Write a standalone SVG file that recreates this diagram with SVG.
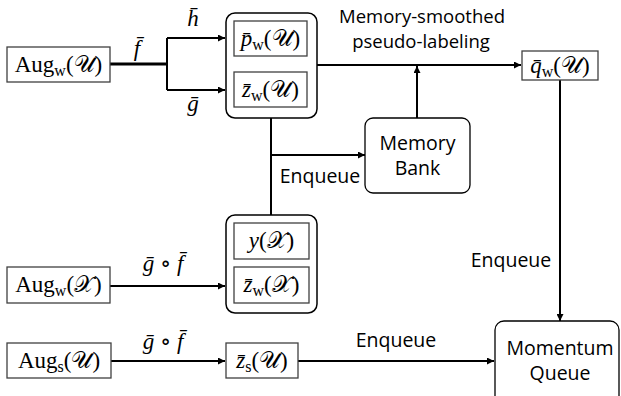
<svg xmlns="http://www.w3.org/2000/svg" width="621" height="396" viewBox="0 0 621 396">
<defs>
<marker id="ah" viewBox="0 0 10 10" refX="10" refY="5" markerWidth="9" markerHeight="7" markerUnits="userSpaceOnUse" orient="auto">
<path d="M0,0 L10,5 L0,10 z" fill="#000"/>
</marker>
<style>
.box{fill:#fff;stroke:#404040;stroke-width:1.3}
.grp{fill:#fff;stroke:#000;stroke-width:1.5}
.rbox{fill:#fff;stroke:#000;stroke-width:1.3}
.m{font-family:"Liberation Serif","DejaVu Serif",serif;font-size:23px;fill:#000;text-anchor:middle}
.i{font-style:italic}
.s{font-size:16px}
.t{font-family:"Open Sans","Liberation Sans",sans-serif;font-size:19.5px;fill:#000;text-anchor:middle}
.h{font-size:18.5px}
.c{fill:none;stroke:#000;stroke-width:2}
</style>
</defs>
<g id="connectors">
<path class="c" d="M110,64 H167" style="stroke-width:3"/>
<path class="c" d="M167,38 V90"/>
<path class="c" d="M167,38 H225" marker-end="url(#ah)"/>
<path class="c" d="M167,90 H225" marker-end="url(#ah)"/>
<path class="c" d="M317,65 H521" marker-end="url(#ah)"/>
<path class="c" d="M417,118 V66" marker-end="url(#ah)"/>
<path class="c" d="M271,118 V215"/>
<path class="c" d="M271,155 H365" marker-end="url(#ah)"/>
<path class="c" d="M560,80 V321" marker-end="url(#ah)"/>
<path class="c" d="M110,286 H225" marker-end="url(#ah)"/>
<path class="c" d="M111,361 H225" marker-end="url(#ah)"/>
<path class="c" d="M298,361 H494" marker-end="url(#ah)"/>
<text class="m i" x="137" y="56">f&#x0304;</text>
<text class="m i" x="193" y="26">h&#x0304;</text>
<text class="m i" x="193" y="111">g&#x0304;</text>
<text class="m" x="163" y="271"><tspan class="i">g&#x0304;</tspan> ∘ <tspan class="i">f&#x0304;</tspan></text>
<text class="m" x="163" y="349"><tspan class="i">g&#x0304;</tspan> ∘ <tspan class="i">f&#x0304;</tspan></text>
<text class="t h" x="422" y="23">Memory-smoothed</text>
<text class="t h" x="421" y="48">pseudo-labeling</text>
<text class="t" x="320" y="183">Enqueue</text>
<text class="t" x="511" y="267">Enqueue</text>
<text class="t" x="396" y="347">Enqueue</text>
</g>
<g id="aug_w_u">
<rect class="box" x="7" y="47" width="103" height="35"/>
<text class="m" x="58.5" y="72">Aug<tspan class="s" dy="4">w</tspan><tspan dy="-4">(𝒰)</tspan></text>
</g>
<g id="group_u">
<rect class="grp" x="226" y="13" width="91" height="105" rx="9"/>
<g id="p_w_u">
<rect class="box" x="234" y="21" width="73" height="35"/>
<text class="m" x="270.5" y="46"><tspan class="i">p&#x0304;</tspan><tspan class="s" dy="4">w</tspan><tspan dy="-4">(𝒰)</tspan></text>
</g>
<g id="z_w_u">
<rect class="box" x="234" y="72" width="73" height="35"/>
<text class="m" x="270.5" y="97"><tspan class="i">z&#x0304;</tspan><tspan class="s" dy="4">w</tspan><tspan dy="-4">(𝒰)</tspan></text>
</g>
</g>
<g id="q_w_u">
<rect class="box" x="522" y="51" width="76" height="29"/>
<text class="m" x="560" y="73"><tspan class="i">q&#x0304;</tspan><tspan class="s" dy="4">w</tspan><tspan dy="-4">(𝒰)</tspan></text>
</g>
<g id="memory_bank">
<rect class="rbox" x="365" y="118" width="105" height="75" rx="8"/>
<text class="t" x="417.5" y="150">Memory</text>
<text class="t" x="417.5" y="175">Bank</text>
</g>
<g id="aug_w_x">
<rect class="box" x="7" y="267" width="103" height="36"/>
<text class="m" x="58.5" y="292">Aug<tspan class="s" dy="4">w</tspan><tspan dy="-4">(𝒳)</tspan></text>
</g>
<g id="group_x">
<rect class="grp" x="226" y="215" width="91" height="98" rx="9"/>
<g id="y_x">
<rect class="box" x="234" y="223" width="75" height="36"/>
<text class="m" x="271.5" y="248"><tspan class="i">y</tspan>(𝒳)</text>
</g>
<g id="z_w_x">
<rect class="box" x="234" y="267" width="75" height="36"/>
<text class="m" x="271.5" y="292"><tspan class="i">z&#x0304;</tspan><tspan class="s" dy="4">w</tspan><tspan dy="-4">(𝒳)</tspan></text>
</g>
</g>
<g id="aug_s_u">
<rect class="box" x="7" y="343" width="104" height="35"/>
<text class="m" x="59" y="368">Aug<tspan class="s" dy="4">s</tspan><tspan dy="-4">(𝒰)</tspan></text>
</g>
<g id="z_s_u">
<rect class="box" x="226" y="343" width="72" height="35"/>
<text class="m" x="262" y="368"><tspan class="i">z&#x0304;</tspan><tspan class="s" dy="4">s</tspan><tspan dy="-4">(𝒰)</tspan></text>
</g>
<g id="momentum_queue">
<rect class="rbox" x="495" y="321" width="124" height="85" rx="9"/>
<text class="t" x="560" y="355">Momentum</text>
<text class="t" x="560" y="380">Queue</text>
</g>
</svg>
